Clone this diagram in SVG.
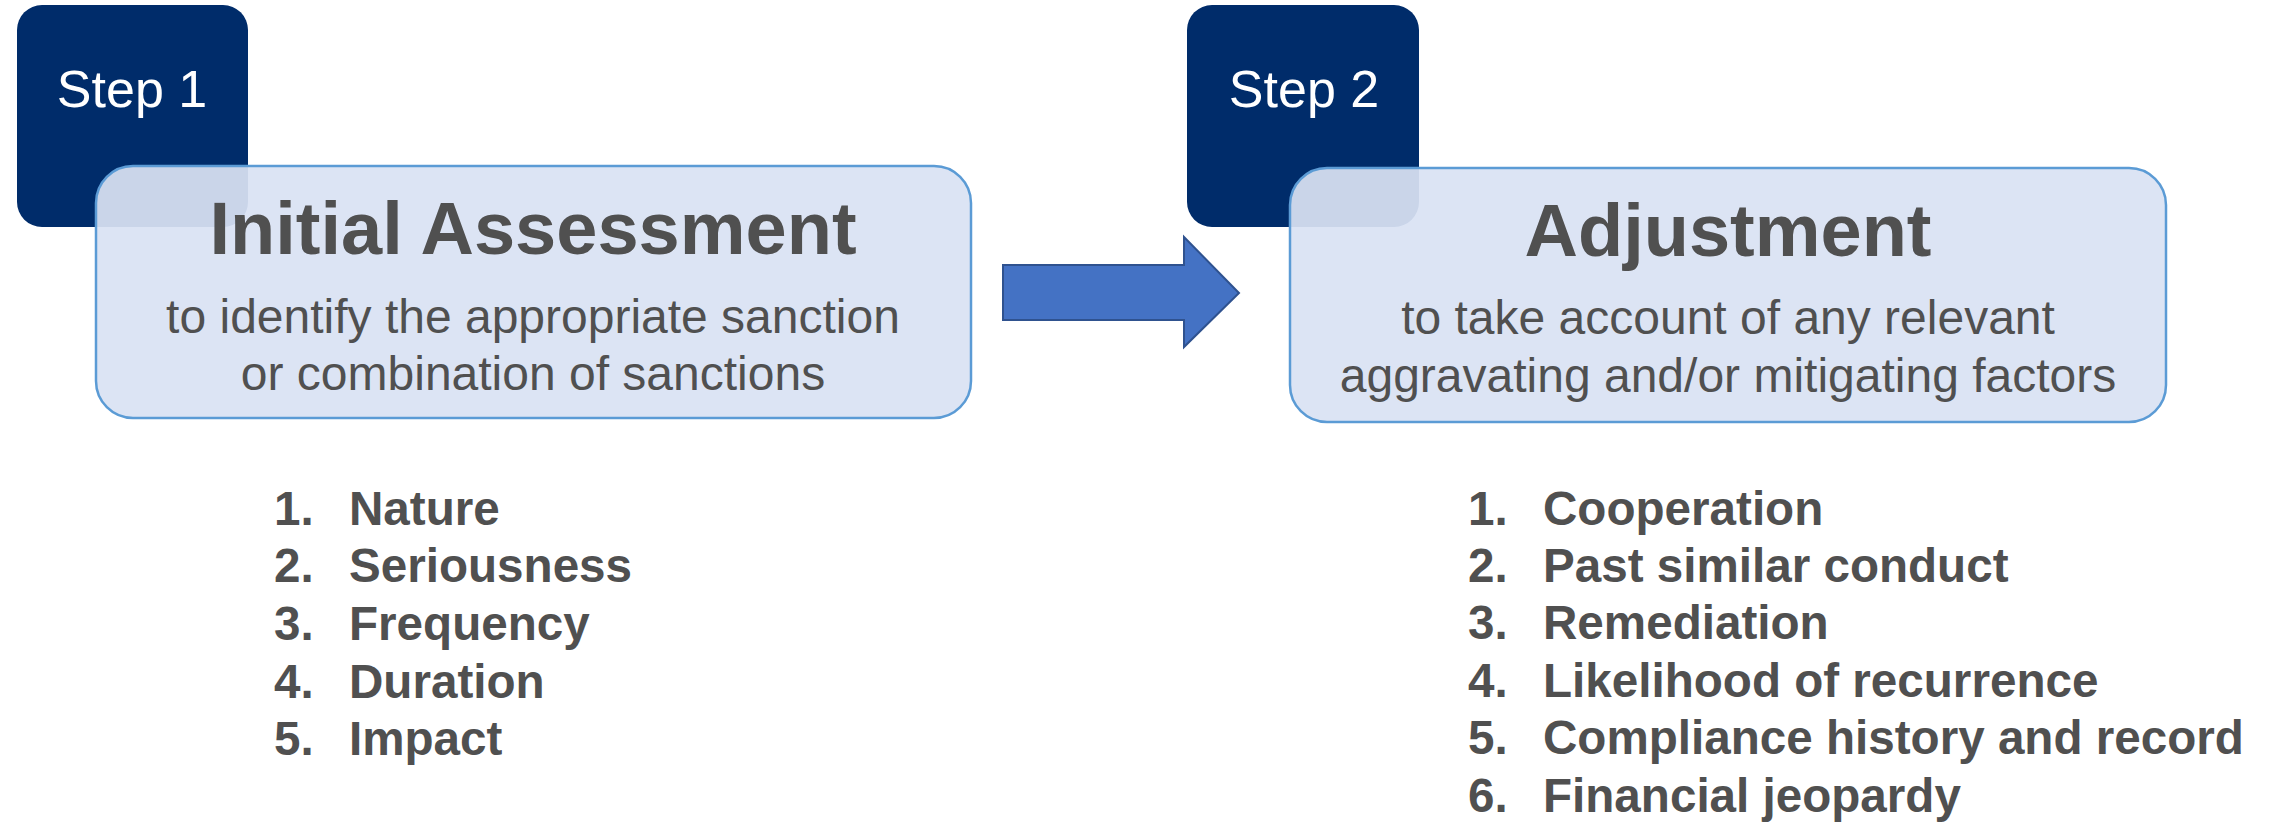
<svg xmlns="http://www.w3.org/2000/svg" width="2272" height="822" viewBox="0 0 2272 822">
<style>
.step{fill:#002C6A;}
.steptxt{font-family:"Liberation Sans",Arial,sans-serif;font-size:52px;fill:#FFFFFF;text-anchor:middle;}
.box{fill:#D9E2F3;fill-opacity:0.93;stroke:#5B9BD5;stroke-width:2.5;}
.title{font-family:"Liberation Sans",Arial,sans-serif;font-size:74px;font-weight:bold;fill:#505050;text-anchor:middle;}
.sub{font-family:"Liberation Sans",Arial,sans-serif;font-size:48px;fill:#505050;text-anchor:middle;}
.li{font-family:"Liberation Sans",Arial,sans-serif;font-size:47.6px;font-weight:bold;fill:#505050;}
.arrow{fill:#4472C4;stroke:#2F528F;stroke-width:2;}
</style>
<g id="step1">
<rect class="step" x="17" y="5" width="231" height="222" rx="25" ry="25"/>
<text class="steptxt" x="132" y="107">Step 1</text>
</g>
<g id="initial-assessment">
<rect class="box" x="96" y="166" width="875" height="252" rx="37" ry="37"/>
<text class="title" x="533" y="254">Initial Assessment</text>
<text class="sub" x="533" y="333">to identify the appropriate sanction</text>
<text class="sub" x="533" y="390">or combination of sanctions</text>
</g>
<g id="step2">
<rect class="step" x="1187" y="5" width="232" height="222" rx="25" ry="25"/>
<text class="steptxt" x="1304" y="107">Step 2</text>
</g>
<g id="adjustment">
<rect class="box" x="1290" y="168" width="876" height="254" rx="37" ry="37"/>
<text class="title" x="1728" y="256">Adjustment</text>
<text class="sub" x="1728" y="334">to take account of any relevant</text>
<text class="sub" x="1728" y="392">aggravating and/or mitigating factors</text>
</g>
<g id="connectors">
<polygon class="arrow" points="1003,265 1184,265 1184,237 1239,293 1184,347 1184,320 1003,320"/>
</g>
<g id="list1">
<text class="li" x="274" y="525">1.</text><text class="li" x="349" y="525">Nature</text>
<text class="li" x="274" y="582">2.</text><text class="li" x="349" y="582">Seriousness</text>
<text class="li" x="274" y="640">3.</text><text class="li" x="349" y="640">Frequency</text>
<text class="li" x="274" y="698">4.</text><text class="li" x="349" y="698">Duration</text>
<text class="li" x="274" y="755">5.</text><text class="li" x="349" y="755">Impact</text>
</g>
<g id="list2">
<text class="li" x="1468" y="525">1.</text><text class="li" x="1543" y="525">Cooperation</text>
<text class="li" x="1468" y="582">2.</text><text class="li" x="1543" y="582">Past similar conduct</text>
<text class="li" x="1468" y="639">3.</text><text class="li" x="1543" y="639">Remediation</text>
<text class="li" x="1468" y="697">4.</text><text class="li" x="1543" y="697">Likelihood of recurrence</text>
<text class="li" x="1468" y="754">5.</text><text class="li" x="1543" y="754">Compliance history and record</text>
<text class="li" x="1468" y="812">6.</text><text class="li" x="1543" y="812">Financial jeopardy</text>
</g>
</svg>
